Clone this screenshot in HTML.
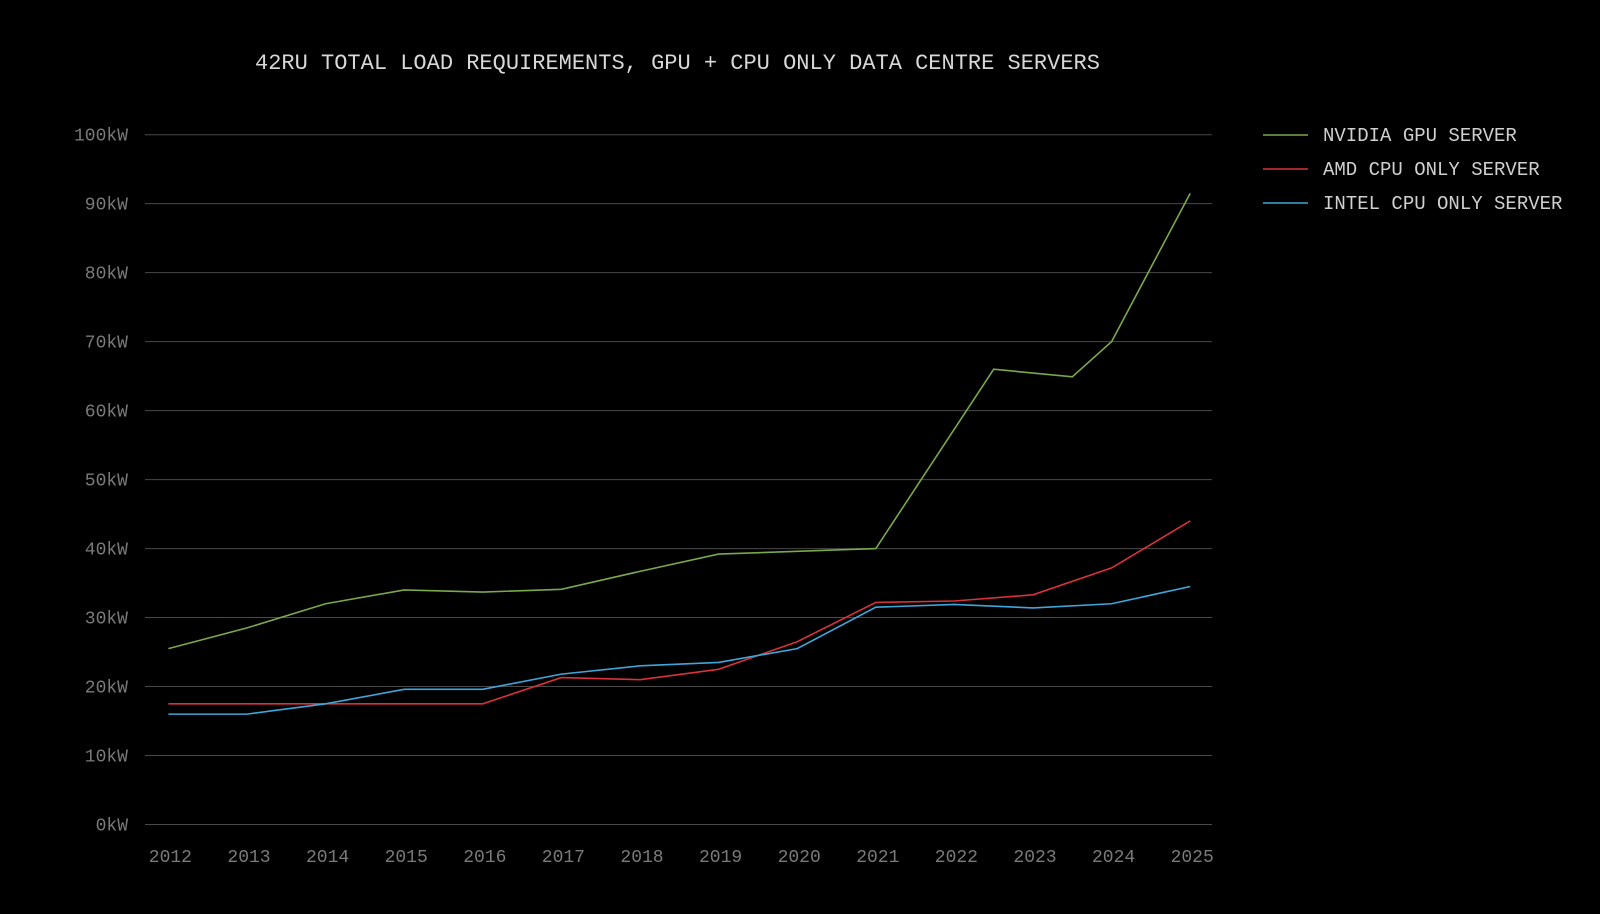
<!DOCTYPE html>
<html><head><meta charset="utf-8"><style>
html,body{margin:0;padding:0;background:#000;}
svg{display:block;}
text{font-family:"Liberation Mono","DejaVu Sans Mono",monospace;}
</style></head><body>
<svg id="chart" width="1600" height="914" viewBox="0 0 1600 914">
<rect width="1600" height="914" fill="#000"/>
<text x="255" y="69" fill="#d8d8d8" font-size="22">42RU TOTAL LOAD REQUIREMENTS, GPU + CPU ONLY DATA CENTRE SERVERS</text>
<g id="grid"></g><g id="xaxis"></g><g id="series"></g><g id="legend"></g>
</svg>
<script>
const yTicks=[0,10,20,30,40,50,60,70,80,90,100];
const xYears=[2012,2013,2014,2015,2016,2017,2018,2019,2020,2021,2022,2023,2024,2025];
const nvidiaX=[2012,2013,2014,2015,2016,2017,2018,2019,2020,2021,2022.5,2023.5,2024,2025];
const nvidiaY=[25.5,28.5,32,34,33.7,34.1,36.7,39.2,39.6,40,66,64.9,70,91.5];
const amdX=[2012,2013,2014,2015,2016,2017,2018,2019,2020,2021,2022,2023,2024,2025];
const amdY=[17.5,17.5,17.5,17.5,17.5,21.3,21,22.5,26.5,32.2,32.4,33.3,37.2,44];
const intelX=[2012,2013,2014,2015,2016,2017,2018,2019,2020,2021,2022,2023,2024,2025];
const intelY=[16,16,17.5,19.6,19.6,21.8,23,23.5,25.5,31.5,31.9,31.4,32,34.5];
const seriesNames=["NVIDIA GPU SERVER","AMD CPU ONLY SERVER","INTEL CPU ONLY SERVER"];
const NS="http://www.w3.org/2000/svg";
const xs=y=>168.4+(y-2012)*78.6;
const ys=v=>824.5-v*6.898;
function mk(t,a,p){const e=document.createElementNS(NS,t);for(const k in a)e.setAttribute(k,a[k]);p.appendChild(e);return e;}
const grid=document.getElementById('grid');
yTicks.forEach(v=>{
 const l=mk('line',{x1:145,x2:1212,y1:ys(v),y2:ys(v),stroke:'#4a4a4a','stroke-width':1},grid);
 
 
 const t=mk('text',{x:128,y:ys(v)+6,fill:'#7a7a7a','font-size':18,'text-anchor':'end'},grid);
 t.textContent=v+'kW';
 
 
});
const xa=document.getElementById('xaxis');
xYears.forEach(y=>{
 const t=mk('text',{x:xs(y)+2,y:862,fill:'#7a7a7a','font-size':18,'text-anchor':'middle'},xa);
 t.textContent=y;
 
 
});
const ser=document.getElementById('series');
const colors=['#7aa84a','#d8323a','#3fa6dc'];
[[nvidiaX,nvidiaY],[amdX,amdY],[intelX,intelY]].forEach((s,i)=>{
 const pts=s[0].map((x,j)=>xs(x)+','+ys(s[1][j])).join(' ');
 const p=mk('polyline',{points:pts,fill:'none',stroke:colors[i],'stroke-width':1.6},ser);
 
 
});
const lg=document.getElementById('legend');
seriesNames.forEach((n,i)=>{
 const y=135+i*34;
 const g=mk('g',{},lg);
 
 
 mk('line',{x1:1263,x2:1308,y1:y,y2:y,stroke:colors[i],'stroke-width':1.6},g);
 const t=mk('text',{x:1323,y:y+6,fill:'#d0d0d0','font-size':19},g);
 t.textContent=n;
});
</script>
</body></html>
